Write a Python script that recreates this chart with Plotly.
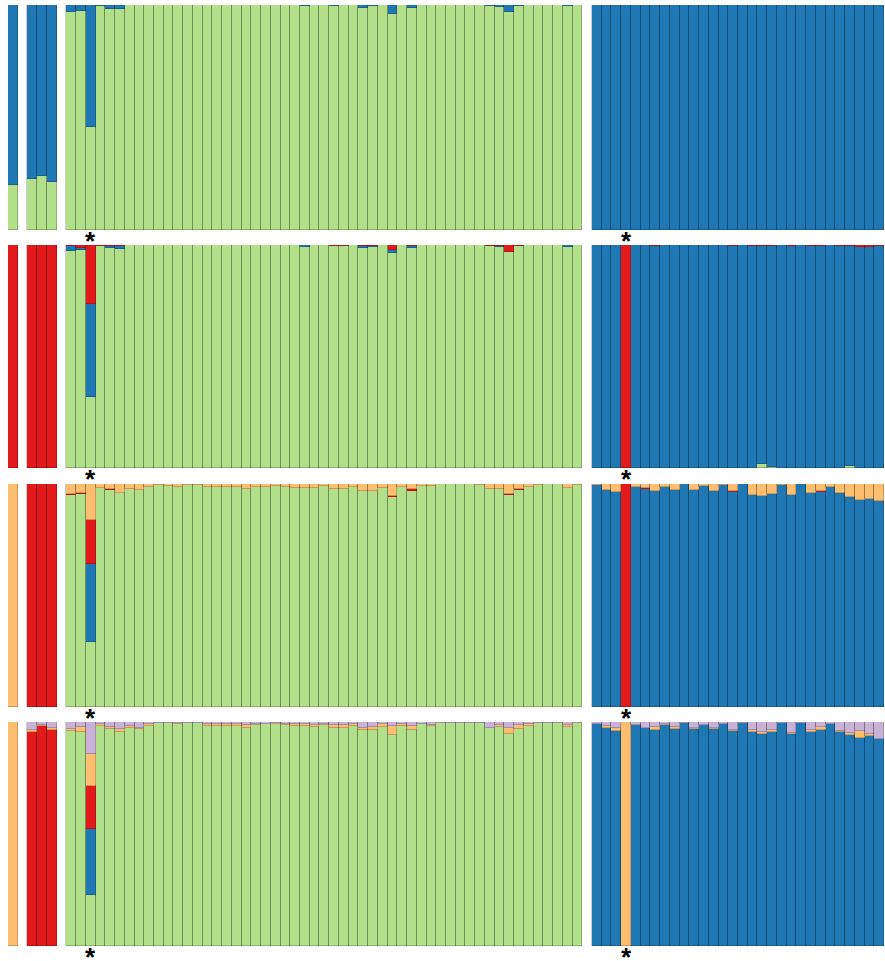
import plotly.graph_objects as go
from plotly.subplots import make_subplots

# ---------------- data ----------------
group_sizes = [1, 3, 53, 30]
components = ["green", "blue", "red", "orange", "lavender"]
colors = {"green": "#b2df8a", "blue": "#1f78b4", "red": "#e31a1c",
          "orange": "#fdbf6f", "lavender": "#cab2d6"}
row_k = [2, 3, 4, 5]
star_group3_index = 2
star_group4_index = 3

# K = 2
k2_g1_blue = [0.80]
k2_g2_blue = [0.773, 0.76, 0.785]
k2_g3_blue = [0.03, 0.027, 0.54, 0.003, 0.016, 0.017, 0.002, 0.002, 0.002, 0.002,
              0.002, 0.002, 0.002, 0.002, 0.002, 0.002, 0.002, 0.002, 0.002, 0.002,
              0.002, 0.002, 0.002, 0.002, 0.004, 0.002, 0.002, 0.004, 0.002, 0.002,
              0.015, 0.005, 0.002, 0.04, 0.002, 0.015, 0.002, 0.002, 0.002, 0.002,
              0.002, 0.002, 0.002, 0.004, 0.01, 0.032, 0.004, 0.002, 0.002, 0.002,
              0.002, 0.006, 0.002]
k2_g4_green = [0.0] * 30

# K = 3
k3_g3_blue = [0.022, 0.009, 0.415, 0.0, 0.01, 0.013, 0.0, 0.0, 0.0, 0.0,
              0.0, 0.0, 0.0, 0.0, 0.0, 0.0, 0.0, 0.0, 0.0, 0.0,
              0.0, 0.0, 0.0, 0.0, 0.006, 0.0, 0.0, 0.0, 0.0, 0.0,
              0.009, 0.003, 0.0, 0.012, 0.0, 0.009, 0.0, 0.0, 0.0, 0.0,
              0.0, 0.0, 0.0, 0.0, 0.006, 0.003, 0.0, 0.0, 0.0, 0.0,
              0.0, 0.006, 0.0]
k3_g3_red = [0.005, 0.012, 0.265, 0.003, 0.004, 0.004, 0.002, 0.002, 0.002, 0.002,
             0.002, 0.002, 0.002, 0.002, 0.002, 0.002, 0.002, 0.002, 0.002, 0.002,
             0.002, 0.002, 0.002, 0.002, 0.002, 0.002, 0.002, 0.004, 0.004, 0.002,
             0.006, 0.004, 0.002, 0.022, 0.002, 0.006, 0.002, 0.002, 0.002, 0.002,
             0.002, 0.002, 0.002, 0.003, 0.003, 0.03, 0.004, 0.002, 0.002, 0.002,
             0.002, 0.002, 0.002]
k3_g4_green = [0, 0, 0, 0, 0, 0, 0, 0, 0, 0,
               0, 0, 0, 0, 0, 0, 0, 0.018, 0.004, 0,
               0, 0, 0, 0, 0, 0, 0.01, 0, 0, 0]
k3_g4_red = [0, 0, 0, 1.0, 0, 0, 0.004, 0, 0, 0,
             0, 0, 0, 0, 0.004, 0, 0.005, 0.005, 0.005, 0,
             0.005, 0, 0.004, 0.004, 0, 0.005, 0.006, 0.01, 0.01, 0.006]

# K = 4
k4_g3_orange = [0.046, 0.04, 0.163, 0.016, 0.024, 0.04, 0.024, 0.028, 0.013, 0.005,
                0.01, 0.012, 0.005, 0.005, 0.015, 0.015, 0.015, 0.013, 0.024, 0.015,
                0.013, 0.01, 0.013, 0.016, 0.016, 0.019, 0.009, 0.024, 0.024, 0.013,
                0.031, 0.031, 0.016, 0.054, 0.013, 0.024, 0.009, 0.009, 0.002, 0.002,
                0.002, 0.002, 0.005, 0.021, 0.021, 0.046, 0.024, 0.013, 0.005, 0.002,
                0.002, 0.016, 0.005]
k4_g3_red = [0.003, 0.005, 0.197, 0, 0.004, 0, 0, 0, 0, 0,
             0, 0, 0, 0, 0, 0, 0, 0, 0, 0,
             0, 0, 0, 0, 0, 0, 0, 0, 0, 0,
             0, 0, 0, 0.005, 0, 0.006, 0, 0, 0, 0,
             0, 0, 0, 0, 0, 0.004, 0.004, 0, 0, 0,
             0, 0, 0]
k4_g3_blue = [0, 0, 0.35] + [0] * 50
k4_g4_orange = [0.004, 0.027, 0.036, 0, 0.013, 0.016, 0.031, 0.012, 0.027, 0.002,
                0.027, 0.009, 0.031, 0.004, 0.033, 0.002, 0.049, 0.054, 0.046, 0.004,
                0.049, 0.002, 0.042, 0.03, 0.012, 0.039, 0.057, 0.072, 0.069, 0.078]
k4_g4_red = [0, 0, 0, 1.0, 0, 0.005, 0, 0, 0, 0,
             0, 0, 0, 0, 0.003, 0, 0, 0, 0, 0,
             0, 0, 0, 0.005, 0, 0, 0, 0, 0, 0]

# K = 5
k5_g2_lavender = [0.036, 0.013, 0.025]
k5_g2_orange = [0.01, 0.005, 0.009]
k5_g3_lavender = [0.03, 0.021, 0.144, 0.01, 0.022, 0.031, 0.018, 0.025, 0.01, 0.003,
                  0.003, 0.005, 0.003, 0.003, 0.01, 0.01, 0.01, 0.008, 0.013, 0.01,
                  0.008, 0.005, 0.008, 0.009, 0.009, 0.013, 0.009, 0.013, 0.013, 0.009,
                  0.025, 0.021, 0.01, 0.016, 0.009, 0.016, 0.009, 0.013, 0.003, 0.003,
                  0.003, 0.003, 0.005, 0.025, 0.013, 0.028, 0.013, 0.01, 0.003, 0.003,
                  0.005, 0.013, 0.005]
k5_g3_orange = [0.012, 0.022, 0.141, 0.01, 0.009, 0.015, 0.01, 0.006, 0.009, 0.003,
                0.002, 0.002, 0.002, 0.002, 0.01, 0.01, 0.008, 0.008, 0.012, 0.005,
                0.003, 0.003, 0.005, 0.009, 0.009, 0.009, 0.003, 0.015, 0.012, 0.01,
                0.012, 0.013, 0.012, 0.042, 0.01, 0.018, 0.002, 0.005, 0.0, 0.0,
                0.0, 0.0, 0.0, 0.003, 0.009, 0.025, 0.018, 0.01, 0.0, 0.0,
                0.0, 0.009, 0.0]
k5_g3_red = [0, 0, 0.192] + [0] * 50
k5_g3_blue = [0, 0, 0.295] + [0] * 50
k5_g4_lavender = [0.009, 0.016, 0.028, 0, 0.013, 0.025, 0.021, 0.01, 0.022, 0.003,
                  0.025, 0.013, 0.025, 0.009, 0.034, 0.003, 0.036, 0.046, 0.036, 0.003,
                  0.05, 0.003, 0.036, 0.021, 0.01, 0.04, 0.05, 0.04, 0.055, 0.076]
k5_g4_orange = [0, 0.012, 0.012, 1.0, 0, 0, 0.013, 0.003, 0.009, 0,
                0.006, 0, 0.006, 0, 0.006, 0, 0.01, 0.009, 0.01, 0,
                0.003, 0, 0.01, 0.015, 0, 0.003, 0.01, 0.03, 0.009, 0]

# per row: for each group, the minor components (read) and the dominant one (remainder)
rows = [
    [({"blue": k2_g1_blue}, "green"), ({"blue": k2_g2_blue}, "green"),
     ({"blue": k2_g3_blue}, "green"), ({"green": k2_g4_green}, "blue")],
    [({}, "red"), ({}, "red"),
     ({"blue": k3_g3_blue, "red": k3_g3_red}, "green"),
     ({"green": k3_g4_green, "red": k3_g4_red}, "blue")],
    [({}, "orange"), ({}, "red"),
     ({"blue": k4_g3_blue, "red": k4_g3_red, "orange": k4_g3_orange}, "green"),
     ({"red": k4_g4_red, "orange": k4_g4_orange}, "blue")],
    [({}, "orange"), ({"orange": k5_g2_orange, "lavender": k5_g2_lavender}, "red"),
     ({"blue": k5_g3_blue, "red": k5_g3_red, "orange": k5_g3_orange,
       "lavender": k5_g3_lavender}, "green"),
     ({"orange": k5_g4_orange, "lavender": k5_g4_lavender}, "blue")],
]

# ---------------- figure ----------------
W, H = 885, 961
ML, MR, MT, MB = 8, 1, 5, 15
fig = make_subplots(rows=4, cols=1, shared_xaxes=True)

# x positions: one empty slot between groups
xpos = []
start = 0
for n in group_sizes:
    xpos.append([start + i for i in range(n)])
    start += n + 1
xmax = xpos[-1][-1]

row_px = [(5, 230), (245, 468), (484, 707), (722, 946)]
plot_h = H - MT - MB

for r, groups in enumerate(rows):
    K = row_k[r]
    comps = components[:K]
    xs = [x for g in xpos for x in g]
    vals = {c: [] for c in comps}
    for (minor, dom), n in zip(groups, group_sizes):
        for i in range(n):
            tot = 0.0
            for c in comps:
                if c != dom:
                    v = minor.get(c, [0.0] * n)[i]
                    vals[c].append(v)
                    tot += v
            vals[dom].append(max(0.0, 1.0 - tot))
    for c in comps:
        fig.add_trace(go.Bar(x=xs, y=vals[c], width=1.0,
                             marker=dict(color=colors[c],
                                         line=dict(color="rgba(0,0,0,0.25)", width=0.8)),
                             showlegend=False, hoverinfo="skip"),
                      row=r + 1, col=1)

for r, (top, bot) in enumerate(row_px):
    ax = "yaxis" if r == 0 else f"yaxis{r+1}"
    fig.layout[ax].update(domain=[(H - MB - bot) / plot_h, (H - MB - top) / plot_h],
                          range=[0, 1], visible=False, fixedrange=True)
    xa = "xaxis" if r == 0 else f"xaxis{r+1}"
    fig.layout[xa].update(range=[-0.5, xmax + 0.5], visible=False, fixedrange=True)
    # stars under the marked individuals
    ystar = (H - MB - (bot + 8)) / plot_h
    for gx in (xpos[2][star_group3_index], xpos[3][star_group4_index]):
        fig.add_annotation(x=gx, y=ystar, xref=xa.replace("axis", ""), yref="paper",
                           text="<b>*</b>", showarrow=False, yanchor="middle", yshift=-3,
                           font=dict(size=26, color="black", family="Liberation Sans"))

fig.update_layout(width=W, height=H, autosize=False, barmode="stack", bargap=0,
                  margin=dict(l=ML, r=MR, t=MT, b=MB),
                  paper_bgcolor="white", plot_bgcolor="white")

fig.write_html("out.html",
               config={"displayModeBar": False, "responsive": False},
               post_script="document.body.style.margin='0';document.body.style.overflow='hidden';")
